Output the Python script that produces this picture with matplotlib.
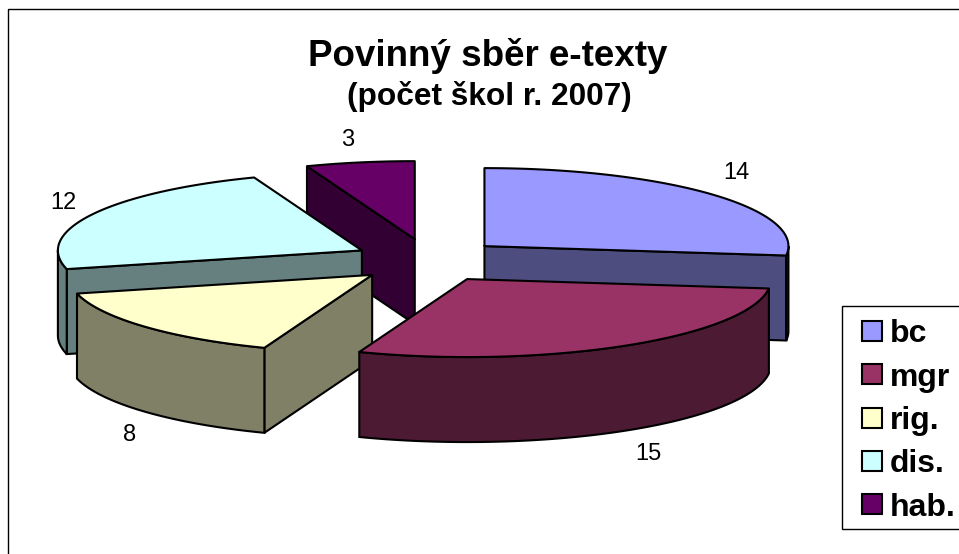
import numpy as np
import matplotlib
matplotlib.use("Agg")
import matplotlib.pyplot as plt
from matplotlib.patches import Polygon, Rectangle

plt.rcParams['font.family'] = ['Liberation Sans', 'DejaVu Sans']

categories = ['bc', 'mgr', 'rig.', 'dis.', 'hab.']
values = [14, 15, 8, 12, 3]
top_colors = ['#9999FF', '#993366', '#FFFFCC', '#CCFFFF', '#660066']
side_colors = ['#4D4D80', '#4D1A33', '#808066', '#668080', '#330033']
label_offsets = [(24, -21), (24, 108), (-15, 108), (-29, -11), (-12, -22)]

# pie geometry in image pixels
cx, cy = 428.3, 260.5
rx, ry = 304, 78
ex, ey = 75, 21.7
depth = 85
line_w = 1.5


def rim(apex, t):
    return np.column_stack([apex[0] + rx * np.sin(t), apex[1] - ry * np.cos(t)])


def draw_wall(ax, apex, p, interior, color, z):
    # only draw the flat wall if the slice top lies above this edge on screen
    line_y = apex[1] + (p[1] - apex[1]) * (interior[0] - apex[0]) / (p[0] - apex[0] + 1e-9)
    if abs(p[0] - apex[0]) > 1e-6 and interior[1] < line_y:
        pts = [apex, p, (p[0], p[1] + depth), (apex[0], apex[1] + depth)]
        ax.add_patch(Polygon(pts, closed=True, fc=color, ec='black', lw=line_w, zorder=z))


fig = plt.figure(figsize=(9.59, 5.54), dpi=100)
ax = fig.add_axes([0, 0, 1, 1])
ax.set_xlim(0, 959)
ax.set_ylim(554, 0)
ax.axis('off')

# chart frame, runs off the right and bottom of the picture
ax.add_patch(Rectangle((7.5, 8.5), 1000, 600, fc='white', ec='black', lw=1.0, zorder=0))

angles = np.cumsum([0] + values) / sum(values) * 2 * np.pi
mids = (angles[:-1] + angles[1:]) / 2
apexes = [(cx + ex * np.sin(m), cy - ey * np.cos(m)) for m in mids]
order = np.argsort([a[1] for a in apexes])

for z, i in enumerate(order):
    t0, t1 = angles[i], angles[i + 1]
    apex = apexes[i]
    base = z * 10 + 2
    t = np.linspace(t0, t1, 80)
    edge = rim(apex, t)
    mid_pt = rim(apex, np.array([mids[i]]))[0]
    interior = ((apex[0] + mid_pt[0]) / 2, (apex[1] + mid_pt[1]) / 2)
    draw_wall(ax, apex, edge[0], interior, side_colors[i], base)
    draw_wall(ax, apex, edge[-1], interior, side_colors[i], base)
    # curved outer wall, front half of the rim only
    lo, hi = max(t0, np.pi / 2), min(t1, 3 * np.pi / 2)
    if lo < hi:
        front = rim(apex, np.linspace(lo, hi, 80))
        wall = np.vstack([front, (front + [0, depth])[::-1]])
        ax.add_patch(Polygon(wall, closed=True, fc=side_colors[i], ec='black', lw=line_w, zorder=base + 1))
    ax.add_patch(Polygon(np.vstack([[apex], edge]), closed=True, fc=top_colors[i], ec='black', lw=line_w,
                         joinstyle='round', zorder=base + 2))
    ax.text(mid_pt[0] + label_offsets[i][0], mid_pt[1] + label_offsets[i][1], str(values[i]),
            ha='center', va='center', fontsize=17, color='black', zorder=100)

ax.text(487.5, 55.5, 'Povinný sběr e-texty', ha='center', va='center', fontsize=26.5, fontweight='bold')
ax.text(489.5, 96.5, '(počet škol r. 2007)', ha='center', va='center', fontsize=22.8, fontweight='bold')

# legend box also runs off the right edge
ax.add_patch(Rectangle((842, 306), 200, 223, fc='white', ec='black', lw=1.0, zorder=200))
for k, name in enumerate(categories):
    row_y = 331 + k * 43.3
    ax.add_patch(Rectangle((862, row_y - 10), 20, 20, fc=top_colors[k], ec='black', lw=1.5, zorder=201))
    ax.text(890, row_y, name, ha='left', va='center_baseline', fontsize=23, fontweight='bold', zorder=201)

fig.savefig('out.png', dpi=100)
